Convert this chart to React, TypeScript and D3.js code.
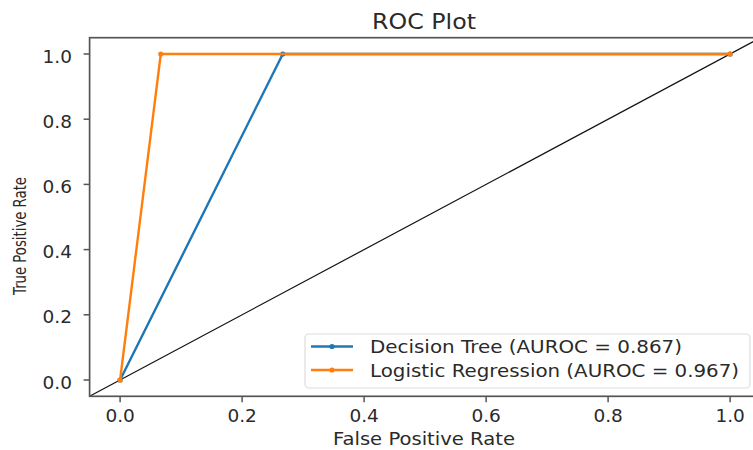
import React from "react";
import * as d3 from "d3";

const dtFpr = [0, 0.2667, 1];
const dtTpr = [0, 1, 1];
const lrFpr = [0, 0.0667, 1];
const lrTpr = [0, 1, 1];
const tickVals = [0, 0.2, 0.4, 0.6, 0.8, 1.0];
const seriesNames = ["Decision Tree (AUROC = 0.867)", "Logistic Regression (AUROC = 0.967)"];
const seriesColors = ["#1f77b4", "#ff7f0e"];

const W = 753, H = 450;
const FONT = "DejaVu Sans, sans-serif";

export default function App() {
  const x = d3.scaleLinear().domain([-0.05, 1.05]).range([89.6, 760.6]);
  const y = d3.scaleLinear().domain([-0.05, 1.05]).range([396.3, 37.7]);
  const line = d3.line<[number, number]>().x(d => x(d[0])).y(d => y(d[1]));
  const series = [
    { pts: dtFpr.map((v, i) => [v, dtTpr[i]] as [number, number]), color: seriesColors[0] },
    { pts: lrFpr.map((v, i) => [v, lrTpr[i]] as [number, number]), color: seriesColors[1] },
  ];
  const [x0, x1] = x.range();
  const [y0, y1] = y.range();
  const fmt = d3.format(".1f");
  const legendLens = [312, 369];
  const legendRows = [346.5, 370];
  return (
    <svg width={W} height={H} style={{ position: "absolute", left: 0, top: 0, background: "#fff" }} fontFamily={FONT}>
      <defs>
        <clipPath id="plot"><rect x={x0} y={y1} width={x1 - x0} height={y0 - y1} /></clipPath>
      </defs>
      <rect x={0} y={0} width={W} height={H} fill="#fff" />
      <g clipPath="url(#plot)">
        <path d={line([[-0.05, -0.05], [1.05, 1.05]]) || ""} stroke="#111" strokeWidth={1.2} fill="none" />
        {series.map((s, i) => (
          <g key={i}>
            <path d={line(s.pts) || ""} stroke={s.color} strokeWidth={2.4} fill="none" strokeLinejoin="round" />
            {s.pts.map((p, j) => (
              <circle key={j} cx={x(p[0])} cy={y(p[1])} r={2.6} fill={s.color} />
            ))}
          </g>
        ))}
      </g>
      <rect x={x0} y={y1} width={x1 - x0} height={y0 - y1} fill="none" stroke="#555" strokeWidth={1.7} />
      {tickVals.map(t => (
        <g key={"x" + t}>
          <line x1={x(t)} x2={x(t)} y1={y0} y2={y0 + 6} stroke="#555" strokeWidth={1.5} />
          <text x={x(t)} y={421.5} textAnchor="middle" fontSize={18.5} fill="#2a2a2a">{fmt(t)}</text>
        </g>
      ))}
      {tickVals.map(t => (
        <g key={"y" + t}>
          <line x1={x0 - 6} x2={x0} y1={y(t)} y2={y(t)} stroke="#555" strokeWidth={1.5} />
          <text x={72} y={y(t) + 8.5} textAnchor="end" fontSize={18.5} fill="#2a2a2a">{fmt(t)}</text>
        </g>
      ))}
      <text x={424} y={29} textAnchor="middle" fontSize={22} fill="#2a2a2a" textLength={104} lengthAdjust="spacingAndGlyphs">ROC Plot</text>
      <text x={424} y={445} textAnchor="middle" fontSize={18.5} fill="#2a2a2a" textLength={182} lengthAdjust="spacingAndGlyphs">False Positive Rate</text>
      <text transform="translate(25.5,236) rotate(-90)" textAnchor="middle" fontSize={17.5} fill="#2a2a2a" textLength={118} lengthAdjust="spacingAndGlyphs">True Positive Rate</text>
      <rect x={305} y={334} width={445} height={54} rx={4} fill="#fff" fillOpacity={0.85} stroke="#ddd" strokeWidth={1.2} />
      {seriesNames.map((n, i) => (
        <g key={n}>
          <line x1={311} x2={353} y1={legendRows[i]} y2={legendRows[i]} stroke={seriesColors[i]} strokeWidth={2.4} />
          <circle cx={332} cy={legendRows[i]} r={2.6} fill={seriesColors[i]} />
          <text x={370} y={legendRows[i] + 6.5} fontSize={18.5} fill="#2a2a2a" textLength={legendLens[i]} lengthAdjust="spacingAndGlyphs">{n}</text>
        </g>
      ))}
    </svg>
  );
}
